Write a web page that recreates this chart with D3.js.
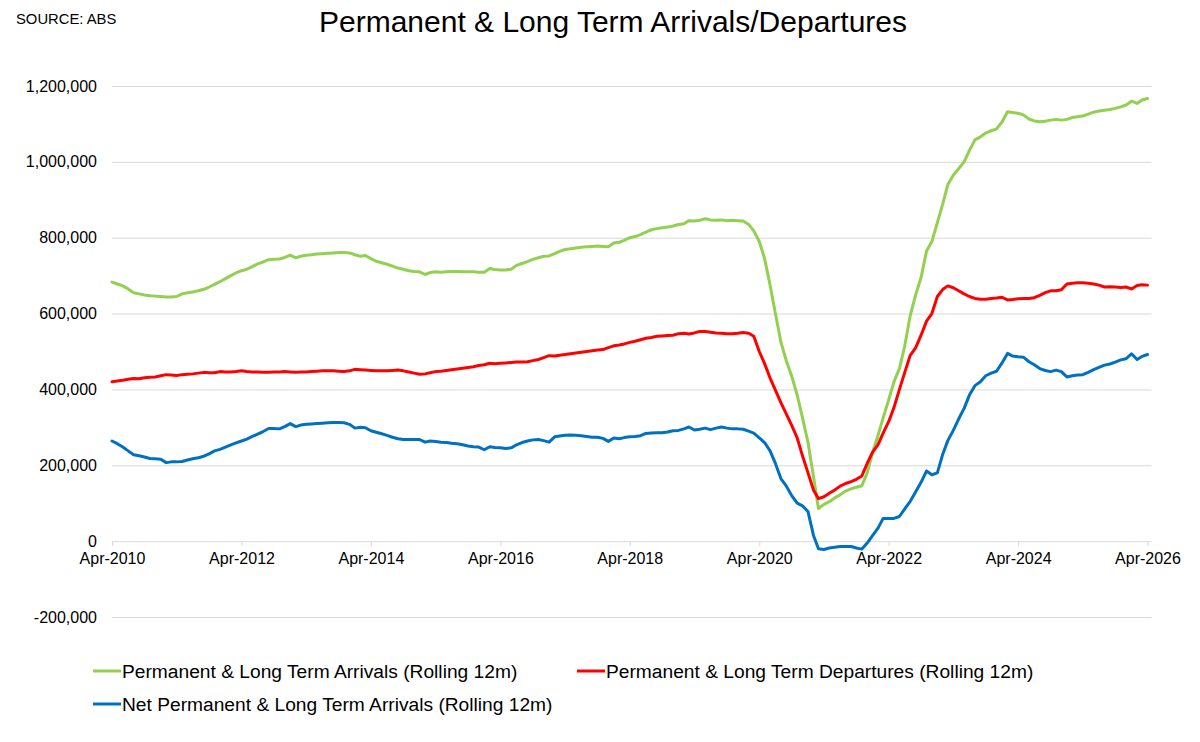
<!DOCTYPE html>
<html>
<head>
<meta charset="utf-8">
<script src="https://cdn.jsdelivr.net/npm/d3@7"></script>
<style>
  html, body { margin: 0; padding: 0; background: #ffffff; }
  svg { display: block; font-family: "Liberation Sans", Arial, sans-serif; }
</style>
</head>
<body>
<svg id="chart" width="1200" height="742"></svg>
<script>
// ---- Data (thousands of people, monthly from Apr-2010) ----
const startMonth = new Date(2010, 3, 1);

const arrivals = [
683,678,673,665,655,652,649,647,646,645,
644,644,645,652,655,657,660,664,670,677,
684,692,700,707,713,717,724,731,736,742,
743,744,748,754,747,751,754,755,757,758,
759,760,761,761,760,755,751,753,745,738,
734,730,725,720,717,713,711,710,703,708,
710,709,710,711,711,710,710,710,709,709,
719,716,715,715,717,727,732,737,743,747,
751,752,758,764,769,771,773,775,776,777,
778,777,776,786,788,793,800,803,808,815,
821,824,826,828,831,835,837,845,844,846,
850,847,846,847,845,846,845,844,835,818,
790,745,675,600,525,475,435,385,325,260,
170,86,97,104,114,122,132,138,142,146,
180,235,280,325,372,420,455,515,595,650,
695,765,790,840,890,940,965,982,1000,1030,
1058,1066,1076,1082,1087,1105,1132,1130,1128,1124,
1113,1108,1106,1107,1110,1112,1110,1112,1117,1119,
1121,1126,1131,1134,1136,1138,1141,1145,1150,1160,
1154,1163,1167
];

const departures = [
420,422,424,427,429,428,431,432,433,436,
439,438,437,439,440,441,443,445,444,444,
447,446,446,447,449,447,446,446,445,445,
446,446,447,446,445,446,446,447,448,449,
449,449,448,447,449,453,452,451,450,449,
449,449,450,451,449,446,443,440,441,444,
447,448,450,452,454,456,458,460,463,465,
469,468,469,470,471,472,472,473,476,479,
484,489,488,490,492,494,496,498,500,502,
504,505,510,515,517,520,524,527,531,535,
537,540,541,542,543,547,548,546,549,553,
553,551,549,548,547,547,548,550,548,540,
500,468,430,398,365,335,305,272,225,180,
135,112,117,126,135,145,152,157,163,172,
205,235,255,285,315,352,400,445,490,510,
543,580,600,645,664,673,668,660,652,645,
640,638,638,640,641,643,636,637,639,640,
640,642,648,655,660,660,663,678,680,681,
681,680,678,675,670,671,670,669,670,665,
674,676,675
];

const netArrivals = [
264,257,248,238,228,225,222,218,217,216,
207,209,209,210,214,217,220,224,230,238,
242,248,254,259,264,269,276,282,289,297,
297,296,302,310,302,306,308,309,310,311,
312,313,313,312,308,298,300,299,291,287,
283,279,274,270,268,268,268,268,261,264,
263,261,260,258,257,254,251,249,248,241,
249,247,246,244,246,254,260,264,267,268,
265,261,275,277,279,280,279,278,276,274,
274,271,263,272,270,273,275,276,278,284,
285,286,286,288,291,292,296,301,293,295,
298,294,298,301,298,296,296,295,290,285,
272,260,238,205,165,145,120,100,93,78,
15,-20,-22,-18,-16,-14,-14,-14,-18,-21,
-5,15,35,60,60,60,65,85,105,130,
155,185,175,180,230,265,292,322,350,385,
410,420,436,443,448,470,495,488,486,485,
473,465,455,450,447,451,447,433,436,438,
439,445,452,458,464,467,472,478,481,494,
479,487,492
];

const yTickValues = [-200000, 0, 200000, 400000, 600000, 800000, 1000000, 1200000];
const xTickLabels = ["Apr-2010","Apr-2012","Apr-2014","Apr-2016","Apr-2018","Apr-2020","Apr-2022","Apr-2024","Apr-2026"];

const seriesNames = [
  "Permanent & Long Term Arrivals (Rolling 12m)",
  "Permanent & Long Term Departures (Rolling 12m)",
  "Net Permanent & Long Term Arrivals (Rolling 12m)"
];
const seriesColors = ["#92d050", "#ff0000", "#0070c0"];

const titleText = "Permanent & Long Term Arrivals/Departures";
const sourceText = "SOURCE: ABS";

// ---- Build ----
const months = arrivals.map((_, i) => d3.timeMonth.offset(startMonth, i));
const parseLabel = d3.timeParse("%b-%Y");
const xTickDates = xTickLabels.map(s => parseLabel(s));

const svg = d3.select("#chart");

const x = d3.scaleTime()
  .domain([xTickDates[0], xTickDates[xTickDates.length - 1]])
  .range([112, 1147.5]);
const y = d3.scaleLinear()
  .domain([-200000, 1200000])
  .range([617, 86]);

const plotLeft = 112, plotRight = 1151.5;

const locale = d3.formatLocale({ decimal: ".", thousands: ",", grouping: [3], currency: ["", ""], minus: "-" });
const fmt = locale.format(",");

// gridlines + y labels
const yAxis = d3.axisLeft(y)
  .tickValues(yTickValues)
  .tickFormat(fmt)
  .tickSize(0)
  .tickPadding(15);
const gy = svg.append("g").attr("transform", `translate(${plotLeft},0)`).call(yAxis);
gy.select(".domain").remove();
gy.selectAll("text").attr("font-size", "16px").attr("fill", "#000")
  .attr("font-family", "Liberation Sans, Arial, sans-serif");
gy.selectAll(".tick").append("line")
  .attr("x1", 0).attr("x2", plotRight - plotLeft)
  .attr("stroke", "#d9d9d9").attr("stroke-width", 1);

// x axis at zero
const xAxis = d3.axisBottom(x)
  .tickValues(xTickDates)
  .tickFormat(d3.timeFormat("%b-%Y"))
  .tickSizeInner(5)
  .tickSizeOuter(0)
  .tickPadding(6);
const gx = svg.append("g").attr("transform", `translate(0,${y(0)})`).call(xAxis);
gx.select(".domain").remove();
gx.selectAll(".tick line").attr("stroke", "#d9d9d9");
gx.selectAll("text").attr("font-size", "16px").attr("fill", "#000")
  .attr("font-family", "Liberation Sans, Arial, sans-serif");

// lines
const line = d3.line()
  .x((d, i) => x(months[i]))
  .y(d => y(d * 1000))
  .curve(d3.curveLinear);

[arrivals, departures, netArrivals].forEach((s, k) => {
  svg.append("path")
    .datum(s)
    .attr("d", line)
    .attr("fill", "none")
    .attr("stroke", seriesColors[k])
    .attr("stroke-width", 3)
    .attr("stroke-linejoin", "round")
    .attr("stroke-linecap", "round");
});

// title & source
svg.append("text").attr("x", 613).attr("y", 32).attr("text-anchor", "middle")
  .attr("font-size", "30px").attr("fill", "#000").text(titleText);
svg.append("text").attr("x", 16).attr("y", 24)
  .attr("font-size", "14.8px").attr("fill", "#000").text(sourceText);

// legend
const legendPos = [
  { lx: 93, ly: 671 },
  { lx: 577, ly: 671 },
  { lx: 93, ly: 704 }
];
seriesNames.forEach((name, k) => {
  const p = legendPos[k];
  const g = svg.append("g");
  g.append("line").attr("x1", p.lx).attr("x2", p.lx + 28)
    .attr("y1", p.ly).attr("y2", p.ly)
    .attr("stroke", seriesColors[k]).attr("stroke-width", 3);
  g.append("text").attr("x", p.lx + 29).attr("y", p.ly + 6.8)
    .attr("font-size", "19.2px").attr("fill", "#000").text(name);
});
</script>
</body>
</html>
